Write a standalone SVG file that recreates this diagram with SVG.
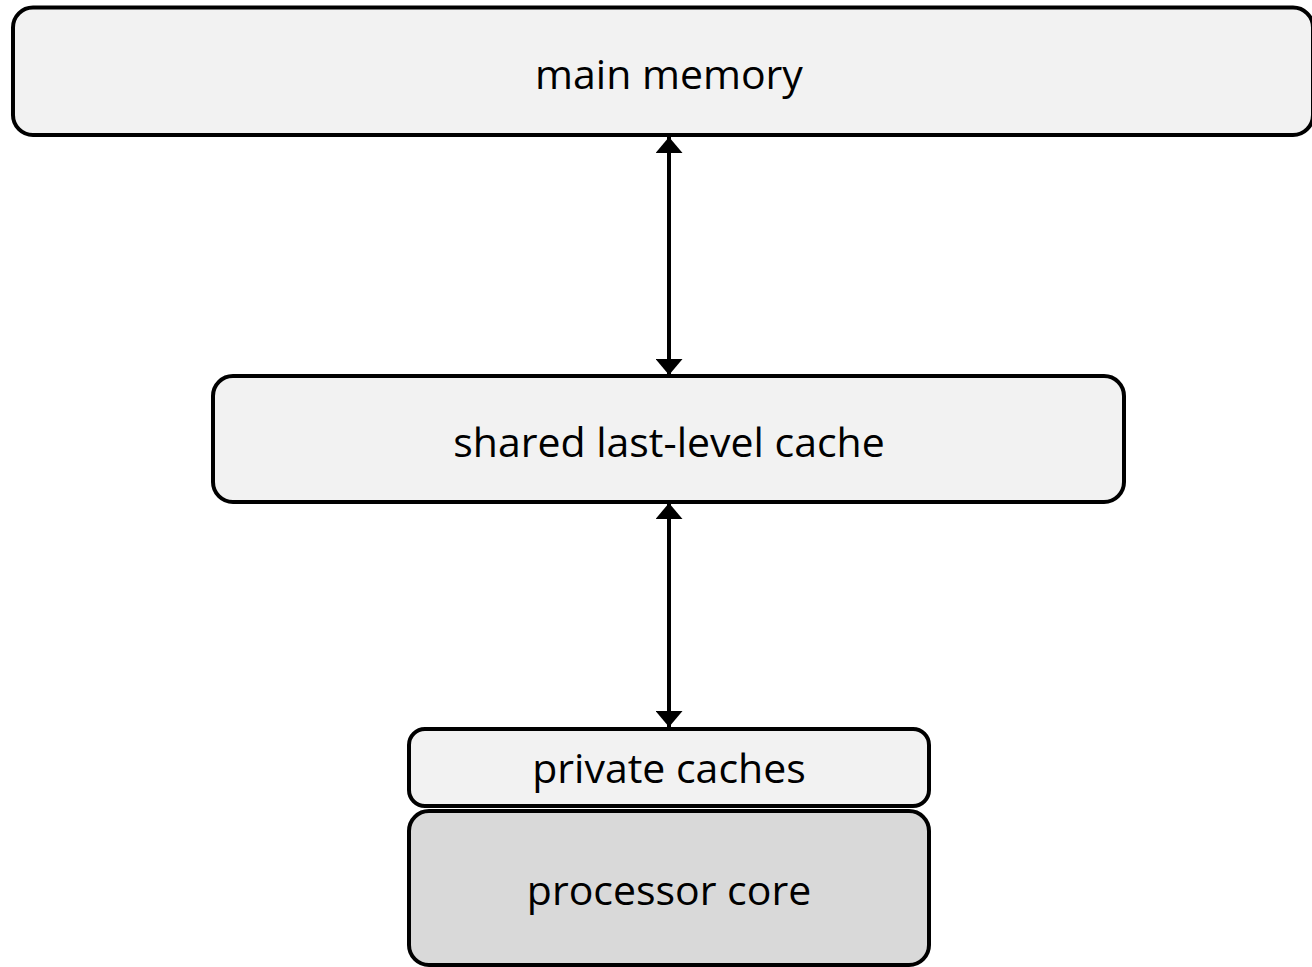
<svg xmlns="http://www.w3.org/2000/svg" width="1312" height="967" viewBox="0 0 1312 967">
  <style>
    .box { stroke: #000; stroke-width: 4; }
    .light { fill: #f2f2f2; }
    .dark { fill: #d9d9d9; }
    .label { font-family: "Open Sans", "Noto Sans", sans-serif; font-size: 41px; fill: #000; text-anchor: middle; }
    .link { stroke: #000; stroke-width: 4; fill: none; marker-start: url(#head); marker-end: url(#head); }
  </style>
  <defs>
    <marker id="head" viewBox="0 0 16 27" refX="16" refY="13.5" markerWidth="16" markerHeight="27" markerUnits="userSpaceOnUse" orient="auto-start-reverse">
      <path d="M0,0 L16,13.5 L0,27 z" fill="#000"/>
    </marker>
  </defs>
  <g id="connectors">
    <line class="link" x1="669" y1="137" x2="669" y2="375"/>
    <line class="link" x1="669" y1="503" x2="669" y2="727"/>
  </g>
  <g id="main-memory">
    <rect class="box light" x="13" y="7.5" width="1300" height="127.5" rx="20"/>
    <text class="label" x="669" y="89">main memory</text>
  </g>
  <g id="shared-llc">
    <rect class="box light" x="213" y="376" width="911" height="126" rx="20"/>
    <text class="label" x="669" y="457">shared last-level cache</text>
  </g>
  <g id="private-caches">
    <rect class="box light" x="409" y="729" width="520" height="77" rx="16"/>
    <text class="label" x="669" y="783">private caches</text>
  </g>
  <g id="processor-core">
    <rect class="box dark" x="409" y="811" width="520" height="154" rx="20"/>
    <text class="label" x="669" y="905">processor core</text>
  </g>
</svg>
